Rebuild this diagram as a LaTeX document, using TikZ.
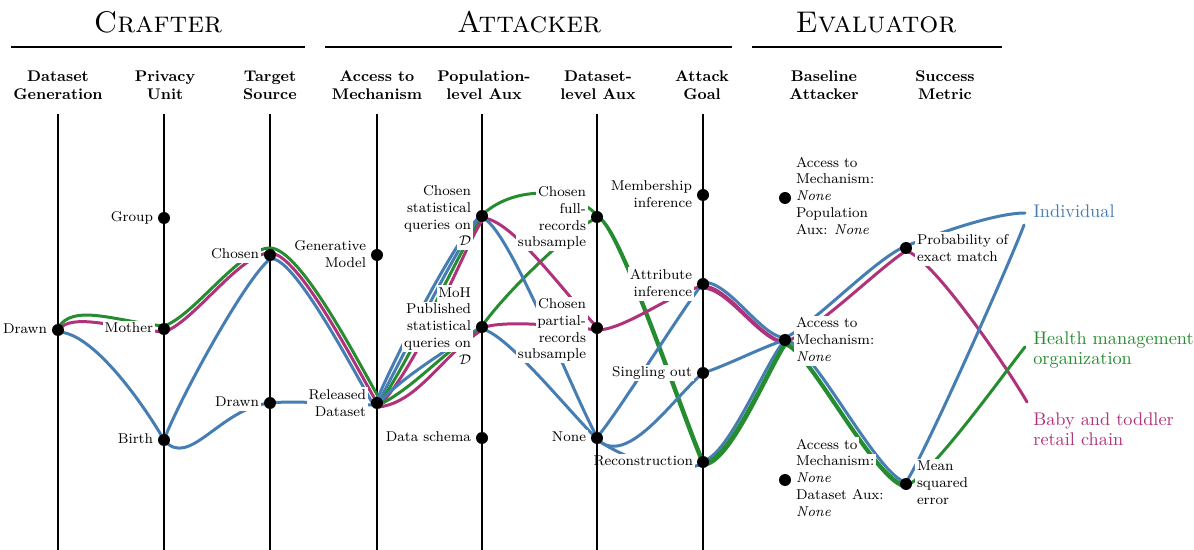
\documentclass[tikz,border=0pt]{standalone}
\usepackage{fontspec}
\usetikzlibrary{calc}
\definecolor{cblue}{RGB}{70,126,180}
\definecolor{cgreen}{RGB}{38,140,48}
\definecolor{cmag}{RGB}{176,50,122}
\newcommand\lstrut{\vrule height 6.7pt depth 2.5pt width 0pt}
\newcommand\wl[1]{{\setlength\fboxsep{0.15pt}\colorbox{white}{\hspace{0.8pt}\lstrut#1\hspace{0.8pt}}}}
\begin{document}
\begin{tikzpicture}[x=0.02cm,y=-0.02cm,
  axisl/.style={line width=1pt},
  rulel/.style={line width=1.1pt},
  dot/.style={circle,fill=black,inner sep=0pt,minimum size=0.24cm},
  flow/.style={line width=1.7pt,line cap=round},
  bl/.style={flow,draw=cblue},
  gr/.style={flow,draw=cgreen},
  mg/.style={flow,draw=cmag},
  lblL/.style={anchor=east,inner sep=0pt,align=right,font=\fontsize{8.1}{9.5}\selectfont},
  lblR/.style={anchor=west,inner sep=0pt,align=left,font=\fontsize{8.1}{9.5}\selectfont},
  head/.style={align=center,inner sep=0pt,font=\fontsize{8.8}{10.2}\selectfont\bfseries},
  ttl/.style={anchor=base,inner sep=0pt,font=\fontsize{17}{20}\selectfont\scshape},
  endl/.style={anchor=west,align=left,inner sep=0pt,font=\fontsize{10.4}{11.4}\selectfont}
]
\useasboundingbox (0,0) rectangle (1194,550);
\fill[white] (0,0) rectangle (1194,550);

% titles and rules
\node[ttl] (tcraft) at (158,33) {Crafter};
\node[ttl] (tatt) at (529,33) {Attacker};
\node[ttl] (teval) at (876,33) {Evaluator};
\draw[rulel] (11,47) -- (305,47);
\draw[rulel] (325,47) -- (732,47);
\draw[rulel] (752,47) -- (1002,47);

% column headers
\node[head] (hdg) at (58,85) {Dataset\\Generation};
\node[head] (hpu) at (165,85) {Privacy\\Unit};
\node[head] (hts) at (270,85) {Target\\Source};
\node[head] (ham) at (377,85) {Access to\\Mechanism};
\node[head] (hpa) at (484,85) {Population-\\level Aux};
\node[head] (hda) at (598,85) {Dataset-\\level Aux};
\node[head] (hag) at (702,85) {Attack\\Goal};
\node[head] (hba) at (824,85) {Baseline\\Attacker};
\node[head] (hsm) at (945,85) {Success\\Metric};

% axes
\foreach \ax in {58,164,270,377,482,597,703}
  \draw[axisl] (\ax,114) -- (\ax,550);

% dot positions
\coordinate (dgdrawn) at (58,330);
\coordinate (pugroup) at (164,218);
\coordinate (pumother) at (164,329);
\coordinate (pubirth) at (164,440);
\coordinate (tschosen) at (270,255);
\coordinate (tsdrawn) at (270,403);
\coordinate (amgen) at (377,255);
\coordinate (amrel) at (377,403);
\coordinate (pachosen) at (482,216);
\coordinate (pamoh) at (482,327);
\coordinate (paschema) at (482,438);
\coordinate (dafull) at (597,217);
\coordinate (dapart) at (597,328);
\coordinate (danone) at (597,438);
\coordinate (agmem) at (703,195);
\coordinate (agattr) at (703,284);
\coordinate (agsingle) at (703,373);
\coordinate (agrecon) at (703,462);
\coordinate (bapop) at (785,198);
\coordinate (banone) at (785,340);
\coordinate (badata) at (785,480);
\coordinate (smprob) at (906,248);
\coordinate (smmse) at (906,484);
\coordinate (eind) at (1025,213);
\coordinate (eindb) at (1024,225);
\coordinate (ehmo) at (1025,347);
\coordinate (ebaby) at (1027,402);

% ---- flows ----
% DG -> PU
\draw[gr] ($(dgdrawn)+(0,-2)$) .. controls +(15,-25) and +(-50,-5) .. ($(pumother)+(0,-3)$);
\draw[mg] ($(dgdrawn)+(0,0)$) .. controls +(15,-18) and +(-50,-4) .. ($(pumother)+(0,3)$);
\draw[bl] ($(dgdrawn)+(0,2)$) .. controls +(35,0) and +(-20,-35) .. (pubirth);
% PU -> TS
\draw[gr] ($(pumother)+(0,-3)$) .. controls +(30,-10) and +(-30,0) .. ($(tschosen)+(0,-7)$);
\draw[mg] ($(pumother)+(0,3)$) .. controls +(30,-10) and +(-30,0) .. ($(tschosen)+(0,-2)$);
\draw[bl] (pubirth) .. controls +(15,-40) and +(-25,20) .. ($(tschosen)+(0,4)$);
\draw[bl] (pubirth) .. controls +(25,30) and +(-50,5) .. (tsdrawn);
% TS -> AM
\draw[gr] ($(tschosen)+(0,-7)$) .. controls +(30,0) and +(-22,-38) .. ($(amrel)+(2,-5)$);
\draw[mg] ($(tschosen)+(0,-2)$) .. controls +(28,0) and +(-22,-38) .. ($(amrel)+(-1,-2)$);
\draw[bl] ($(tschosen)+(0,4)$) .. controls +(22,-6) and +(-22,-38) .. ($(amrel)+(-4,1)$);
\draw[bl] (tsdrawn) .. controls +(30,-3) and +(-40,0) .. ($(amrel)+(0,2)$);
% AM -> PA
\draw[bl] ($(amrel)+(-1,-1)$) .. controls +(22,-52) and +(-20,12) .. ($(pachosen)+(0,-1)$);
\draw[bl] ($(amrel)+(1,0)$) .. controls +(27,-50) and +(-18,14) .. ($(pachosen)+(0,1)$);
\draw[gr] ($(amrel)+(2,1)$) .. controls +(34,-48) and +(-16,16) .. ($(pachosen)+(0,3)$);
\draw[mg] ($(amrel)+(3,2)$) .. controls +(42,-45) and +(-14,18) .. ($(pachosen)+(0,5)$);
\draw[bl] ($(amrel)+(1,0)$) .. controls +(30,-30) and +(-40,28) .. ($(pamoh)+(0,-1)$);
\draw[gr] ($(amrel)+(2,2)$) .. controls +(36,-18) and +(-40,25) .. ($(pamoh)+(0,1)$);
\draw[mg] ($(amrel)+(2,4)$) .. controls +(40,-5) and +(-40,25) .. ($(pamoh)+(0,3)$);
% PA -> DA
\draw[gr] ($(pachosen)+(0,-1)$) .. controls +(30,-28) and +(-30,-30) .. ($(dafull)+(0,-2)$);
\draw[gr] ($(pamoh)+(0,-1)$) .. controls +(25,-35) and +(-25,10) .. ($(dafull)+(0,1)$);
\draw[mg] ($(pachosen)+(0,2)$) .. controls +(30,0) and +(-30,-30) .. ($(dapart)+(0,-1)$);
\draw[mg] ($(pamoh)+(0,1)$) .. controls +(20,-8) and +(-40,-5) .. ($(dapart)+(0,2)$);
\draw[bl] ($(pachosen)+(0,2)$) .. controls +(25,5) and +(-25,-45) .. ($(danone)+(0,-1)$);
\draw[bl] ($(pamoh)+(0,2)$) .. controls +(25,5) and +(-30,-30) .. ($(danone)+(0,1)$);
% DA -> AG
\draw[gr] ($(dafull)+(-1,-1)$) .. controls +(20,0) and +(-20,-45) .. ($(agrecon)+(-1,0)$);
\draw[gr] ($(dafull)+(1,1)$) .. controls +(20,0) and +(-20,-45) .. ($(agrecon)+(1,1)$);
\draw[mg] ($(dapart)+(0,2)$) .. controls +(28,0) and +(-30,6) .. ($(agattr)+(0,2)$);
\draw[bl] ($(danone)+(0,-1)$) .. controls +(15,-15) and +(-20,25) .. ($(agattr)+(0,-1)$);
\draw[bl] ($(danone)+(0,1)$) .. controls +(30,30) and +(-30,25) .. (agsingle);
\draw[bl] ($(danone)+(0,2)$) .. controls +(40,25) and +(-30,10) .. ($(agrecon)+(0,2)$);
% AG -> BA
\draw[mg] ($(agattr)+(0,2)$) .. controls +(25,0) and +(-25,-2) .. ($(banone)+(0,2)$);
\draw[mg] ($(agattr)+(0,4)$) .. controls +(25,0) and +(-25,-2) .. ($(banone)+(0,3)$);
\draw[bl] ($(agattr)+(0,-2)$) .. controls +(27,0) and +(-25,-2) .. ($(banone)+(0,-2)$);
\draw[bl] (agsingle) .. controls +(25,-8) and +(-25,8) .. (banone);
\draw[bl] ($(agrecon)+(0,-1)$) .. controls +(25,-5) and +(-20,25) .. ($(banone)+(-1,1)$);
\draw[gr] ($(agrecon)+(1,1)$) .. controls +(25,-3) and +(-18,27) .. ($(banone)+(0,3)$);
\draw[gr] ($(agrecon)+(2,3)$) .. controls +(26,-3) and +(-18,27) .. ($(banone)+(1,4)$);
% BA -> SM
\draw[bl] ($(banone)+(0,-2)$) .. controls +(30,-15) and +(-30,12) .. ($(smprob)+(0,-2)$);
\draw[mg] ($(banone)+(0,2)$) .. controls +(30,-10) and +(-25,15) .. ($(smprob)+(0,3)$);
\draw[bl] (banone) .. controls +(25,0) and +(-28,-4) .. ($(smmse)+(0,-2)$);
\draw[gr] ($(banone)+(0,3)$) .. controls +(22,2) and +(-30,-2) .. ($(smmse)+(0,1)$);
\draw[gr] ($(banone)+(0,5)$) .. controls +(22,2) and +(-30,-2) .. ($(smmse)+(0,3)$);
% SM -> End
\draw[bl] ($(smprob)+(0,-2)$) .. controls +(30,-12) and +(-30,0) .. (eind);
\draw[mg] ($(smprob)+(0,3)$) .. controls +(25,5) and +(-20,-35) .. (ebaby);
\draw[bl] ($(smmse)+(0,-2)$) .. controls +(15,-20) and +(-15,40) .. (eindb);
\draw[gr] ($(smmse)+(0,2)$) .. controls +(25,-10) and +(-20,25) .. (ehmo);

% ---- labels ----
\node[lblL] (ldgdrawn) at (49,330) {\wl{Drawn}};
\node[lblL] (lpugroup) at (155,218) {\wl{Group}};
\node[lblL] (lpumother) at (155,329) {\wl{Mother}};
\node[lblL] (lpubirth) at (155,440) {\wl{Birth}};
\node[lblL] (ltschosen) at (261,255) {\wl{Chosen}};
\node[lblL] (ltsdrawn) at (261,403) {\wl{Drawn}};
\node[lblL] (lamgen) at (368,255) {\wl{Generative}\\\wl{Model}};
\node[lblL] (lamrel) at (368,404) {\wl{Released}\\\wl{Dataset}};
\node[lblL] (lpachosen) at (473,217) {\wl{Chosen}\\\wl{statistical}\\\wl{queries on}\\\wl{$\mathcal{D}$}};
\node[lblL] (lpamoh) at (473,327) {\wl{MoH}\\\wl{Published}\\\wl{statistical}\\\wl{queries on}\\\wl{$\mathcal{D}$}};
\node[lblL] (lpaschema) at (473,438) {\wl{Data schema}};
\node[lblL] (ldafull) at (588,218) {\wl{Chosen}\\\wl{full-}\\\wl{records}\\\wl{subsample}};
\node[lblL] (ldapart) at (588,330) {\wl{Chosen}\\\wl{partial-}\\\wl{records}\\\wl{subsample}};
\node[lblL] (ldanone) at (588,438) {\wl{None}};
\node[lblL] (lagmem) at (694,195) {\wl{Membership}\\\wl{inference}};
\node[lblL] (lagattr) at (694,284) {\wl{Attribute}\\\wl{inference}};
\node[lblL] (lagsingle) at (694,373) {\wl{Singling out}};
\node[lblL] (lagrecon) at (695,462) {\wl{Reconstruction}};
\node[lblR] (lbapop) at (794,197) {\wl{Access to}\\\wl{Mechanism:}\\\wl{\textit{None}}\\\wl{Population}\\\wl{Aux: \textit{None}}};
\node[lblR] (lbanone) at (794,341) {\wl{Access to}\\\wl{Mechanism:}\\\wl{\textit{None}}};
\node[lblR] (lbadata) at (794,479) {\wl{Access to}\\\wl{Mechanism:}\\\wl{\textit{None}}\\\wl{Dataset Aux:}\\\wl{\textit{None}}};
\node[lblR] (lsmprob) at (915,249) {\wl{Probability of}\\\wl{exact match}};
\node[lblR] (lsmmse) at (915,484) {\wl{Mean}\\\wl{squared}\\\wl{error}};
\node[endl,text=cblue,anchor=base west] (lind) at (1033,218) {Individual};
\node[endl,text=cgreen] (lhmo) at (1033,350) {Health management\\organization};
\node[endl,text=cmag] (lbaby) at (1033,429) {Baby and toddler\\retail chain};

% restore the dataset-level axis where the long label touches it
\draw[axisl] (597,448) -- (597,478);

% ---- dots ----
\foreach \n in {dgdrawn,pugroup,pumother,pubirth,tschosen,tsdrawn,amgen,amrel,pachosen,pamoh,paschema,dafull,dapart,danone,agmem,agattr,agsingle,agrecon,bapop,banone,badata,smprob,smmse}
  \node[dot] (d\n) at (\n) {};
\end{tikzpicture}
\end{document}
